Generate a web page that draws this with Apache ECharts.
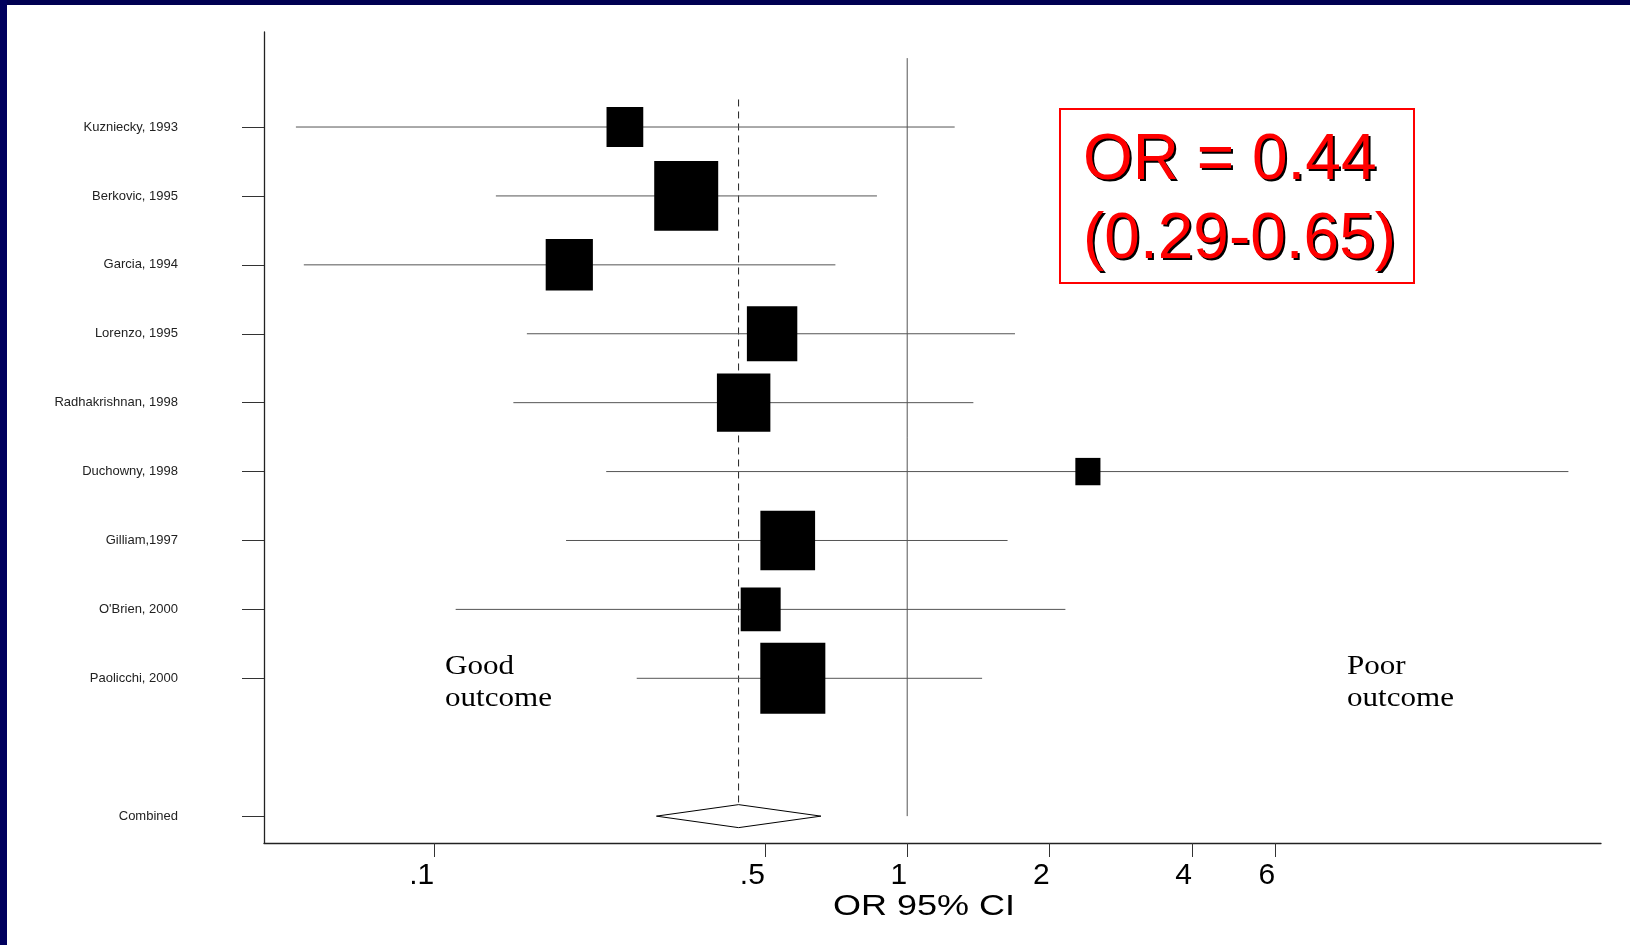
<!DOCTYPE html>
<html>
<head>
<meta charset="utf-8">
<script src="https://cdn.jsdelivr.net/npm/echarts@6/dist/echarts.min.js"></script>
<style>
  html, body { margin: 0; padding: 0; background: #fff; }
  #container1 { width: 1630px; height: 945px; }
</style>
</head>
<body>
<div id="container1"></div>
<script>
// study rows, top to bottom
var studies = ['Kuzniecky, 1993', 'Berkovic, 1995', 'Garcia, 1994', 'Lorenzo, 1995',
    'Radhakrishnan, 1998', 'Duchowny, 1998', 'Gilliam,1997', "O'Brien, 2000", 'Paolicchi, 2000'];
var orValues = [0.253, 0.341, 0.193, 0.518, 0.451, 2.41, 0.559, 0.490, 0.573];
var ciLower  = [0.051, 0.135, 0.053, 0.157, 0.147, 0.231, 0.190, 0.111, 0.268];
var ciUpper  = [1.26, 0.863, 0.705, 1.69, 1.38, 25.0, 1.63, 2.16, 1.44];
var weights  = [6.0, 18.2, 9.9, 11.3, 12.7, 2.8, 13.3, 7.1, 18.8]; // % weight

var combinedLabel = 'Combined';
var combinedOR = 0.44;
var combinedCI = [0.295, 0.657];

var tickValues = [0.1, 0.5, 1, 2, 4, 6];
var tickLabels = ['.1', '.5', '1', '2', '4', '6'];

var combinedRow = studies.length + 1;
var rowLabels = studies.slice();
rowLabels[combinedRow] = combinedLabel;
var labelRows = studies.map(function (s, i) { return i; }).concat([combinedRow]);

var dom = document.getElementById("container1");
var myChart = echarts.init(dom);

var ciData = studies.map(function (s, i) { return [ciLower[i], ciUpper[i], i]; });
var pointData = studies.map(function (s, i) { return [orValues[i], i]; });

var textShadow = { textShadowColor: '#000', textShadowOffsetX: 2, textShadowOffsetY: 2, textShadowBlur: 0.5 };

option = {
    animation: false,
    backgroundColor: '#fff',
    grid: { left: 264, right: 29, top: 32, bottom: 102 },
    xAxis: {
        type: 'log',
        logBase: 10,
        min: 0.04366,
        max: 29.3,
        splitLine: { show: false },
        axisLine: { onZero: false, lineStyle: { color: '#222', width: 1.3 } },
        axisTick: {
            customValues: tickValues,
            length: 14,
            lineStyle: { color: '#333', width: 1 }
        },
        axisLabel: {
            customValues: tickValues,
            margin: 18,
            align: 'right',
            fontFamily: 'Liberation Sans, Arial, sans-serif',
            fontSize: 30,
            lineHeight: 30,
            color: '#000',
            formatter: function (v) {
                var best = 0;
                tickValues.forEach(function (t, i) {
                    if (Math.abs(Math.log(t) - Math.log(v)) < Math.abs(Math.log(tickValues[best]) - Math.log(v))) best = i;
                });
                return tickLabels[best];
            }
        }
    },
    yAxis: {
        type: 'value',
        inverse: true,
        min: -1.379,
        max: 10.39,
        splitLine: { show: false },
        axisLine: { show: true, onZero: false, lineStyle: { color: '#222', width: 1.3 } },
        axisTick: {
            show: true,
            customValues: labelRows,
            length: 22,
            lineStyle: { color: '#333', width: 1 }
        },
        axisLabel: {
            customValues: labelRows,
            margin: 86,
            align: 'right',
            fontFamily: 'Liberation Sans, Arial, sans-serif',
            fontSize: 13,
            color: '#222',
            padding: [0, 0, 6, 0],
            formatter: function (v) { return rowLabels[Math.round(v)] || ''; }
        }
    },
    graphic: [
        { type: 'rect', left: 0, top: 0, shape: { width: 1630, height: 5 }, style: { fill: '#000052' }, z: 100 },
        { type: 'rect', left: 0, top: 0, shape: { width: 7, height: 945 }, style: { fill: '#00005e' }, z: 100 },
        {
            type: 'text', x: 924, y: 907, scaleX: 1.2,
            style: { text: 'OR 95% CI', fill: '#000', font: '30px "Liberation Sans", Arial, sans-serif',
                align: 'center', verticalAlign: 'middle' }
        },
        {
            type: 'text', x: 445, y: 651, scaleX: 1.15,
            style: { text: 'Good\noutcome', fill: '#000', font: '27px "Liberation Serif", "Times New Roman", serif',
                lineHeight: 32, align: 'left', verticalAlign: 'top' }
        },
        {
            type: 'text', x: 1347, y: 651, scaleX: 1.15,
            style: { text: 'Poor\noutcome', fill: '#000', font: '27px "Liberation Serif", "Times New Roman", serif',
                lineHeight: 32, align: 'left', verticalAlign: 'top' }
        },
        {
            type: 'rect', shape: { x: 1060, y: 109, width: 354, height: 174 },
            style: { fill: 'none', stroke: '#ff0000', lineWidth: 2 }
        },
        {
            type: 'text', x: 1083, y: 161,
            style: Object.assign({ text: 'OR = 0.44', fill: '#ff0000', font: '64px "Liberation Sans", Arial, sans-serif',
                align: 'left', verticalAlign: 'middle' }, textShadow)
        },
        {
            type: 'text', x: 1083, y: 240,
            style: Object.assign({ text: '(0.29-0.65)', fill: '#ff0000', font: '64px "Liberation Sans", Arial, sans-serif',
                align: 'left', verticalAlign: 'middle' }, textShadow)
        }
    ],
    series: [
        {
            name: 'ref1',
            type: 'line',
            symbol: 'none',
            silent: true,
            lineStyle: { color: '#555', width: 1 },
            data: [[1, -1], [1, combinedRow]],
            z: 1
        },
        {
            name: 'pooled',
            type: 'line',
            symbol: 'none',
            silent: true,
            lineStyle: { color: '#222', width: 1, type: [7, 5] },
            data: [[combinedOR, -0.4], [combinedOR, combinedRow - 0.165]],
            z: 1
        },
        {
            name: 'ci',
            type: 'custom',
            encode: { x: [0, 1], y: 2 },
            renderItem: function (params, api) {
                var a = api.coord([api.value(0), api.value(2)]);
                var b = api.coord([api.value(1), api.value(2)]);
                return {
                    type: 'line',
                    shape: { x1: a[0], y1: a[1], x2: b[0], y2: b[1] },
                    style: { stroke: '#555', lineWidth: 1 }
                };
            },
            data: ciData,
            z: 2
        },
        {
            name: 'or',
            type: 'scatter',
            symbol: 'rect',
            symbolSize: function (val, params) {
                var w = 15 * Math.sqrt(weights[params.dataIndex]);
                return [w, w * 1.09];
            },
            itemStyle: { color: '#000', opacity: 1 },
            data: pointData,
            z: 3
        },
        {
            name: 'combined',
            type: 'custom',
            encode: { x: [0, 1, 2], y: 3 },
            renderItem: function (params, api) {
                var row = api.value(3);
                var c = api.coord([api.value(0), row]);
                var l = api.coord([api.value(1), row]);
                var r = api.coord([api.value(2), row]);
                return {
                    type: 'polygon',
                    shape: { points: [[l[0], l[1]], [c[0], c[1] - 11.5], [r[0], r[1]], [c[0], c[1] + 11.5]] },
                    style: { fill: '#fff', stroke: '#000', lineWidth: 1 }
                };
            },
            data: [[combinedOR, combinedCI[0], combinedCI[1], combinedRow]],
            z: 3
        }
    ]
};

if (option && typeof option === "object") {
    myChart.setOption(option, true);
}
</script>
</body>
</html>
